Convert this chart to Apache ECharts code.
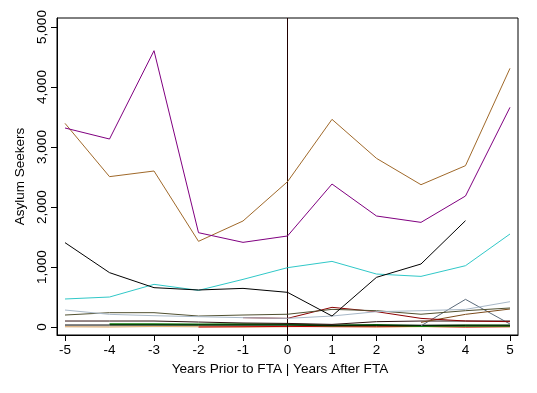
<!DOCTYPE html>
<html><head><meta charset="utf-8">
<script src="https://cdn.jsdelivr.net/npm/echarts@6/dist/echarts.min.js"></script>
<style>html,body{margin:0;padding:0;background:#fff}#c{width:537px;height:393px}</style>
</head><body><div id="c"></div>
<script>
var years = [-5,-4,-3,-2,-1,0,1,2,3,4,5];
var yTicks = [0,1000,2000,3000,4000,5000];
var xTicks = [-5,-4,-3,-2,-1,0,1,2,3,4,5];
var purple = [3317,3133,4605,1572,1411,1517,2383,1850,1744,2183,3661];
var brown = [3394,2506,2600,1428,1767,2422,3461,2811,2372,2689,4311];
var black = [1406,906,656,617,644,578,183,828,1050,1772,null];
var cyan = [467,500,711,611,794,989,1094,883,844,1022,1550];
var steel = [283,211,189,172,156,144,183,256,272,294,422];
var olive = [200,239,239,183,200,213,294,272,213,272,317];
var darkRed = [null,null,null,null,156,144,328,256,144,100,89];
var brown2 = [null,null,null,null,null,null,null,null,78,211,300];
var slate = [null,null,null,null,null,null,null,null,20,461,50];
var black2 = [100,100,100,83,67,60,44,89,100,100,100];
var black3 = [33,33,33,33,33,33,30,30,30,30,30];
var green = [null,45,45,40,45,40,25,35,15,25,20];
var tan = [5,0,10,5,0,5,10,0,5,0,5];
var red = [null,null,null,0,5,10,5,5,10,0,5];
var lightGreen = [null,null,null,null,null,null,null,null,null,35,35];
var lightGray = [5,5,5,5,5,5,null,null,null,null,null];

function pairs(v){ var out=[]; for(var i=0;i<years.length;i++){ out.push([years[i], v[i]]); } return out; }
var defs = [
  [lightGray,'#c8c8c8'],[tan,'#e8b070'],[red,'#c00000'],[green,'#108010'],[lightGreen,'#80d080'],
  [black3,'#000000'],[black2,'#301010'],[slate,'#5a6a7a'],[brown2,'#7a4a1a'],[darkRed,'#8b0000'],
  [olive,'#505030'],[steel,'#a8b8c8'],[cyan,'#30c8c8'],[black,'#000000'],[brown,'#a0692a'],[purple,'#800080']
];
var series = defs.map(function(d, i){
  var s = {type:'line', data:pairs(d[0]), showSymbol:false, symbol:'none', connectNulls:false,
    lineStyle:{color:d[1], width:(d[1]==='#108010'?2:1)}, animation:false, silent:true, z:2+i};
  return s;
});
series[0].markLine = {silent:true, symbol:'none', label:{show:false},
  lineStyle:{color:'#200000', width:1, type:'solid'}, data:[{xAxis:0}], animation:false};

var font = 'Liberation Sans, Arial, sans-serif';
var chart = echarts.init(document.getElementById('c'), null, {renderer:'canvas'});
chart.setOption({
  animation:false,
  backgroundColor:'#ffffff',
  grid:{left:57, right:19, top:18, bottom:58, show:true, borderColor:'#000', borderWidth:1, backgroundColor:'transparent'},
  xAxis:{type:'value', min:-5.18, max:5.18,
    name:'Years Prior to FTA | Years After FTA', nameLocation:'middle', nameGap:16,
    nameTextStyle:{fontFamily:font, fontSize:13.6, color:'#000', padding:[0,15,0,0]},
    axisLine:{show:true, onZero:false, lineStyle:{color:'#000'}},
    axisTick:{show:true, length:6, lineStyle:{color:'#000'}, customValues:xTicks},
    axisLabel:{fontFamily:font, fontSize:13.5, color:'#000', margin:8, customValues:xTicks,
      formatter:function(v){return String(v);}},
    splitLine:{show:false}},
  yAxis:{type:'value', min:-133, max:5150,
    name:'Asylum Seekers', nameLocation:'middle', nameGap:20,
    nameTextStyle:{fontFamily:font, fontSize:13.5, color:'#000'},
    axisLine:{show:true, onZero:false, lineStyle:{color:'#000'}},
    axisTick:{show:true, length:6, lineStyle:{color:'#000'}, customValues:yTicks},
    axisLabel:{fontFamily:font, fontSize:13.5, color:'#000', margin:8, rotate:90, customValues:yTicks,
      formatter:function(v){return v.toLocaleString('en-US');}},
    splitLine:{show:false}},
  series:series
});
</script></body></html>
